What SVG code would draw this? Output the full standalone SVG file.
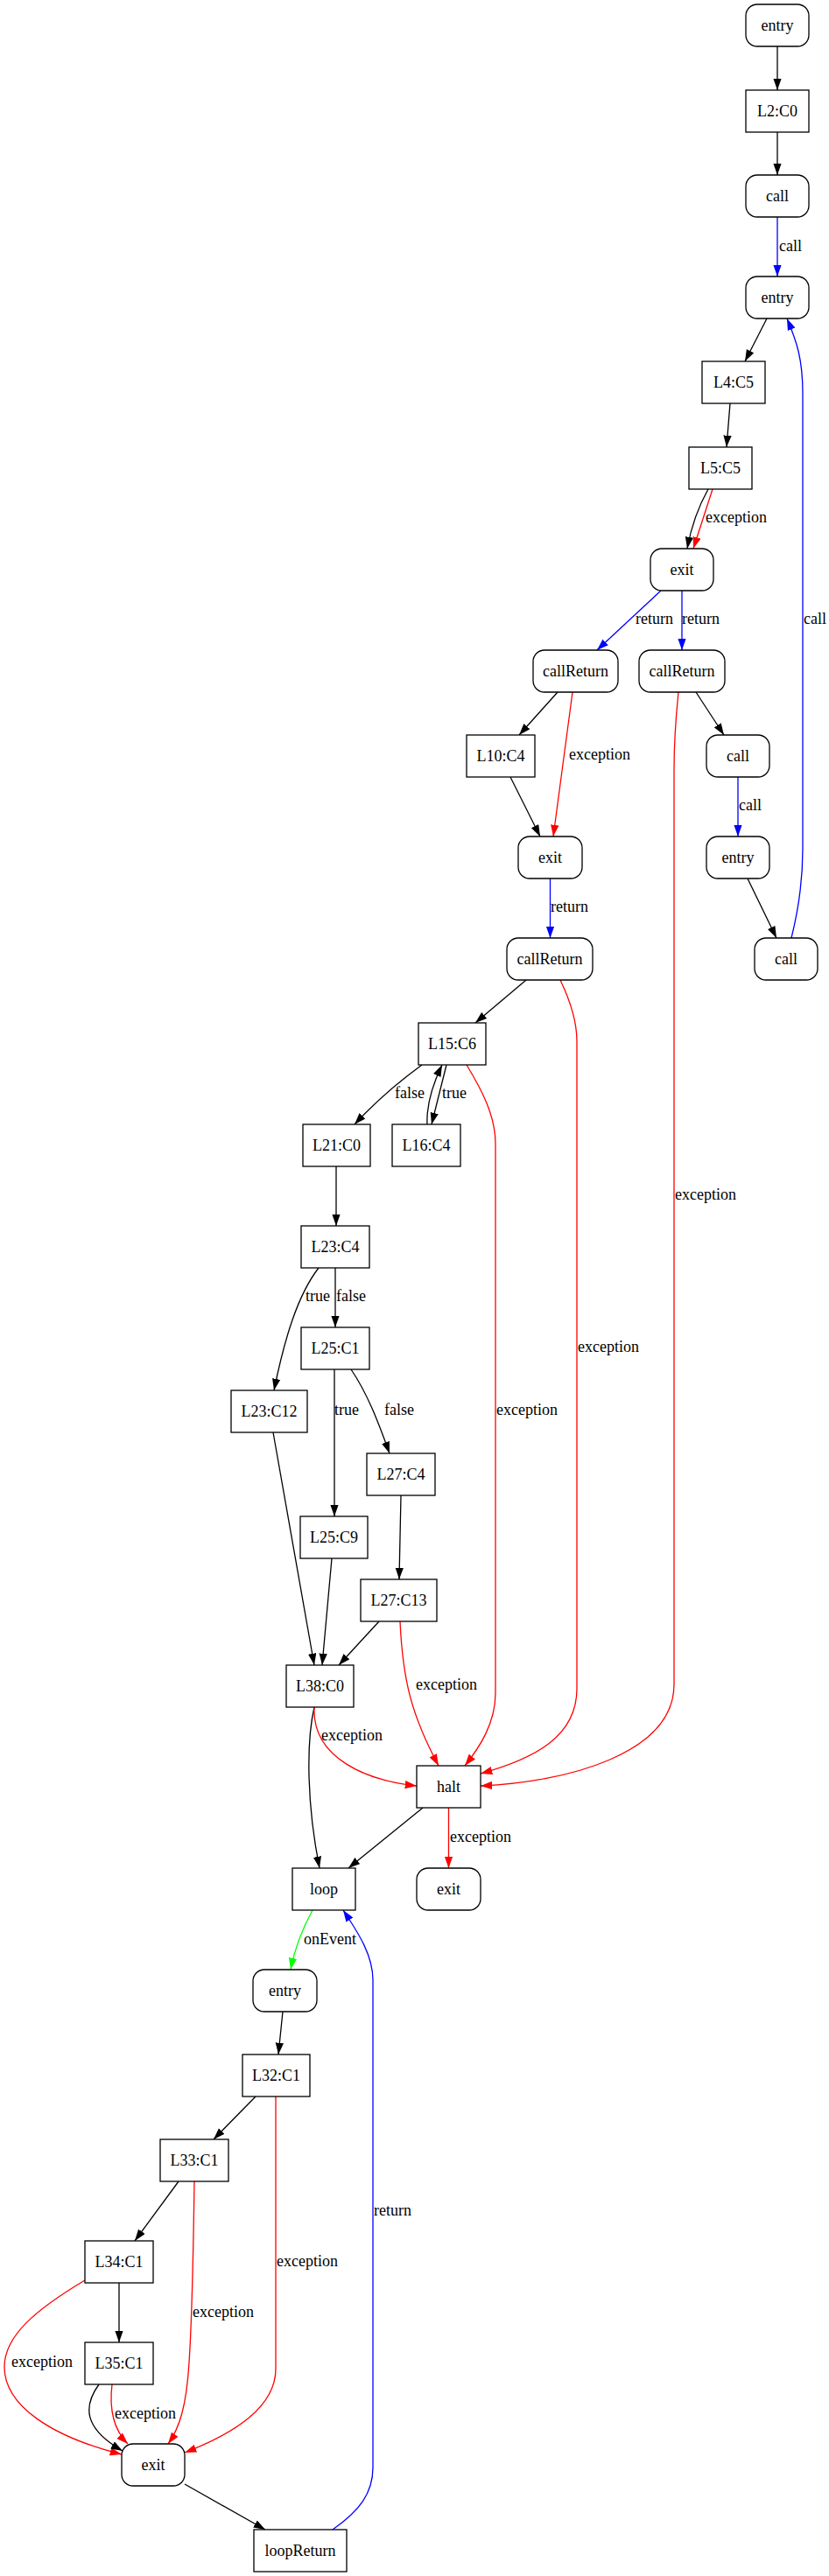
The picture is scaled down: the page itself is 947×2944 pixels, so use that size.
<svg xmlns="http://www.w3.org/2000/svg" width="947" height="2944" viewBox="0 0 947 2944">
<style>
text{font-family:"Liberation Serif","Times New Roman",serif;font-size:18px;fill:#000}
.n text{text-anchor:middle}
.n rect{fill:#fff;stroke:#000;stroke-width:1.3}
.r{rx:13;ry:13}
.e path{fill:none;stroke-width:1.3}
.k{stroke:#000}
.rd{stroke:#f00}
.b{stroke:#00f}
.g{stroke:#0f0}
</style>
<defs>
<marker id="ak" markerUnits="userSpaceOnUse" markerWidth="14" markerHeight="10" refX="13.3" refY="4.67" orient="auto"><path d="M0,0L13.3,4.67L0,9.33Z" fill="#000"/></marker>
<marker id="ar" markerUnits="userSpaceOnUse" markerWidth="14" markerHeight="10" refX="13.3" refY="4.67" orient="auto"><path d="M0,0L13.3,4.67L0,9.33Z" fill="#f00"/></marker>
<marker id="ab" markerUnits="userSpaceOnUse" markerWidth="14" markerHeight="10" refX="13.3" refY="4.67" orient="auto"><path d="M0,0L13.3,4.67L0,9.33Z" fill="#00f"/></marker>
<marker id="ag" markerUnits="userSpaceOnUse" markerWidth="14" markerHeight="10" refX="13.3" refY="4.67" orient="auto"><path d="M0,0L13.3,4.67L0,9.33Z" fill="#0f0"/></marker>
</defs>
<rect width="947" height="2944" fill="#fff"/>
<g id="edges" class="e">
<path class="k" marker-end="url(#ak)" d="M888,53L888,103"/>
<path class="k" marker-end="url(#ak)" d="M888,151L888,200"/>
<path class="b" marker-end="url(#ab)" d="M888,248L888,316"/>
<text x="890" y="287">call</text>
<path class="k" marker-end="url(#ak)" d="M876,364L851,413"/>
<path class="k" marker-end="url(#ak)" d="M834,461L830,511"/>
<path class="k" marker-end="url(#ak)" d="M809,559C800,575 790,600 785,627"/>
<path class="rd" marker-end="url(#ar)" d="M814,559L792,627"/>
<text x="806" y="597">exception</text>
<path class="b" marker-end="url(#ab)" d="M755,675L682,743"/>
<text x="726" y="713">return</text>
<path class="b" marker-end="url(#ab)" d="M779,675L779,743"/>
<text x="779" y="713">return</text>
<path class="k" marker-end="url(#ak)" d="M637,791L593,840"/>
<path class="k" marker-end="url(#ak)" d="M795,791L827,840"/>
<path class="rd" marker-end="url(#ar)" d="M654,791L632,956"/>
<text x="650" y="868">exception</text>
<path class="k" marker-end="url(#ak)" d="M583,888L617,956"/>
<path class="rd" marker-end="url(#ar)" d="M775,791C771,830 770,850 770,880L770,1925C770,2005 645,2037 549,2041"/>
<text x="771" y="1371">exception</text>
<path class="b" marker-end="url(#ab)" d="M843,888L843,956"/>
<text x="844" y="926">call</text>
<path class="k" marker-end="url(#ak)" d="M854,1004L887,1072"/>
<path class="b" marker-end="url(#ab)" d="M904,1072C912,1040 917,1010 917,970L917,450C917,410 910,390 899,364"/>
<text x="918" y="713">call</text>
<path class="b" marker-end="url(#ab)" d="M628.5,1004L628.5,1072"/>
<text x="629" y="1042">return</text>
<path class="k" marker-end="url(#ak)" d="M601,1120L543,1169"/>
<path class="rd" marker-end="url(#ar)" d="M640,1120C652,1145 659,1170 659,1190L659,1930C659,1985 610,2010 549,2027"/>
<text x="660" y="1545">exception</text>
<path class="k" marker-end="url(#ak)" d="M482,1217C460,1233 430,1258 405,1285"/>
<text x="451" y="1255">false</text>
<path class="k" marker-end="url(#ak)" d="M510,1217L493,1285"/>
<text x="505" y="1255">true</text>
<path class="k" marker-end="url(#ak)" d="M488,1285C487,1265 494,1240 505,1217"/>
<path class="rd" marker-end="url(#ar)" d="M533,1217C550,1245 566,1275 566,1307L566,1935C566,1970 547,1998 531,2018"/>
<text x="567" y="1617">exception</text>
<path class="k" marker-end="url(#ak)" d="M384,1333L384,1401"/>
<path class="k" marker-end="url(#ak)" d="M364,1449C340,1480 325,1530 313,1589"/>
<text x="349" y="1487">true</text>
<path class="k" marker-end="url(#ak)" d="M383,1449L383,1517"/>
<text x="384" y="1487">false</text>
<path class="k" marker-end="url(#ak)" d="M382,1565L382,1733"/>
<text x="382" y="1617">true</text>
<path class="k" marker-end="url(#ak)" d="M401,1565C420,1593 432,1625 445,1661"/>
<text x="439" y="1617">false</text>
<path class="k" marker-end="url(#ak)" d="M458,1709L456,1805"/>
<path class="k" marker-end="url(#ak)" d="M312,1637L359,1903"/>
<path class="k" marker-end="url(#ak)" d="M379,1781L368,1903"/>
<path class="k" marker-end="url(#ak)" d="M433,1853L387,1903"/>
<path class="rd" marker-end="url(#ar)" d="M457,1853C460,1920 470,1960 501,2018"/>
<text x="475" y="1931">exception</text>
<path class="k" marker-end="url(#ak)" d="M359,1951C350,1990 350,2060 365,2135"/>
<path class="rd" marker-end="url(#ar)" d="M359,1951C356,2010 420,2035 476,2041"/>
<text x="367" y="1989">exception</text>
<path class="k" marker-end="url(#ak)" d="M483,2066L398,2135"/>
<path class="rd" marker-end="url(#ar)" d="M512.5,2066L512.5,2135"/>
<text x="514" y="2105">exception</text>
<path class="g" marker-end="url(#ag)" d="M357,2183C345,2205 337,2225 332,2251"/>
<text x="347" y="2222">onEvent</text>
<path class="b" marker-end="url(#ab)" d="M380,2891C410,2870 426,2850 426,2820L426,2263C426,2235 410,2210 392,2183"/>
<text x="427" y="2532">return</text>
<path class="k" marker-end="url(#ak)" d="M323,2299L318,2348"/>
<path class="k" marker-end="url(#ak)" d="M292,2396L244,2445"/>
<path class="rd" marker-end="url(#ar)" d="M315,2396L315,2707C315,2750 270,2780 211,2803"/>
<text x="316" y="2590">exception</text>
<path class="k" marker-end="url(#ak)" d="M204,2493L154,2561"/>
<path class="rd" marker-end="url(#ar)" d="M222,2493C221,2560 220,2640 216,2700C213,2750 205,2775 192,2793"/>
<text x="220" y="2648">exception</text>
<path class="k" marker-end="url(#ak)" d="M136,2609L136,2677"/>
<path class="rd" marker-end="url(#ar)" d="M97,2606C40,2640 5,2670 5,2705C5,2750 60,2785 139,2805"/>
<text x="13" y="2705">exception</text>
<path class="k" marker-end="url(#ak)" d="M113,2725C95,2750 95,2775 140,2801"/>
<path class="rd" marker-end="url(#ar)" d="M128,2725C125,2750 128,2775 146,2793"/>
<text x="131" y="2764">exception</text>
<path class="k" marker-end="url(#ak)" d="M211,2839L303,2891"/>
</g>
<g id="n1" class="n"><rect class="r" x="852" y="5" width="72" height="48"/><text x="888" y="35">entry</text></g>
<g id="n2" class="n"><rect x="852" y="103" width="72" height="48"/><text x="888" y="133">L2:C0</text></g>
<g id="n3" class="n"><rect class="r" x="852" y="200" width="72" height="48"/><text x="888" y="230">call</text></g>
<g id="n4" class="n"><rect class="r" x="852" y="316" width="72" height="48"/><text x="888" y="346">entry</text></g>
<g id="n5" class="n"><rect x="802" y="413" width="72" height="48"/><text x="838" y="443">L4:C5</text></g>
<g id="n6" class="n"><rect x="787" y="511" width="72" height="48"/><text x="823" y="541">L5:C5</text></g>
<g id="n7" class="n"><rect class="r" x="743" y="627" width="72" height="48"/><text x="779" y="657">exit</text></g>
<g id="n8" class="n"><rect class="r" x="609" y="743" width="97" height="48"/><text x="657.5" y="773">callReturn</text></g>
<g id="n9" class="n"><rect class="r" x="730" y="743" width="98" height="48"/><text x="779" y="773">callReturn</text></g>
<g id="n10" class="n"><rect x="533" y="840" width="78" height="48"/><text x="572" y="870">L10:C4</text></g>
<g id="n11" class="n"><rect class="r" x="807" y="840" width="72" height="48"/><text x="843" y="870">call</text></g>
<g id="n12" class="n"><rect class="r" x="807" y="956" width="72" height="48"/><text x="843" y="986">entry</text></g>
<g id="n13" class="n"><rect class="r" x="862" y="1072" width="72" height="48"/><text x="898" y="1102">call</text></g>
<g id="n14" class="n"><rect class="r" x="592" y="956" width="73" height="48"/><text x="628.5" y="986">exit</text></g>
<g id="n15" class="n"><rect class="r" x="579" y="1072" width="98" height="48"/><text x="628" y="1102">callReturn</text></g>
<g id="n16" class="n"><rect x="478" y="1169" width="77" height="48"/><text x="516.5" y="1199">L15:C6</text></g>
<g id="n17" class="n"><rect x="346" y="1285" width="77" height="48"/><text x="384.5" y="1315">L21:C0</text></g>
<g id="n18" class="n"><rect x="448" y="1285" width="78" height="48"/><text x="487" y="1315">L16:C4</text></g>
<g id="n19" class="n"><rect x="344" y="1401" width="78" height="48"/><text x="383" y="1431">L23:C4</text></g>
<g id="n20" class="n"><rect x="344" y="1517" width="78" height="48"/><text x="383" y="1547">L25:C1</text></g>
<g id="n21" class="n"><rect x="264" y="1589" width="87" height="48"/><text x="307.5" y="1619">L23:C12</text></g>
<g id="n22" class="n"><rect x="419" y="1661" width="78" height="48"/><text x="458" y="1691">L27:C4</text></g>
<g id="n23" class="n"><rect x="343" y="1733" width="77" height="48"/><text x="381.5" y="1763">L25:C9</text></g>
<g id="n24" class="n"><rect x="412" y="1805" width="87" height="48"/><text x="455.5" y="1835">L27:C13</text></g>
<g id="n25" class="n"><rect x="327" y="1903" width="77" height="48"/><text x="365.5" y="1933">L38:C0</text></g>
<g id="n26" class="n"><rect x="476" y="2018" width="73" height="48"/><text x="512.5" y="2048">halt</text></g>
<g id="n27" class="n"><rect x="334" y="2135" width="72" height="48"/><text x="370" y="2165">loop</text></g>
<g id="n28" class="n"><rect class="r" x="476" y="2135" width="73" height="48"/><text x="512.5" y="2165">exit</text></g>
<g id="n29" class="n"><rect class="r" x="289" y="2251" width="73" height="48"/><text x="325.5" y="2281">entry</text></g>
<g id="n30" class="n"><rect x="277" y="2348" width="77" height="48"/><text x="315.5" y="2378">L32:C1</text></g>
<g id="n31" class="n"><rect x="183" y="2445" width="78" height="48"/><text x="222" y="2475">L33:C1</text></g>
<g id="n32" class="n"><rect x="97" y="2561" width="78" height="48"/><text x="136" y="2591">L34:C1</text></g>
<g id="n33" class="n"><rect x="97" y="2677" width="78" height="48"/><text x="136" y="2707">L35:C1</text></g>
<g id="n34" class="n"><rect class="r" x="139" y="2793" width="72" height="48"/><text x="175" y="2823">exit</text></g>
<g id="n35" class="n"><rect x="290" y="2891" width="106" height="48"/><text x="343" y="2921">loopReturn</text></g>
</svg>
